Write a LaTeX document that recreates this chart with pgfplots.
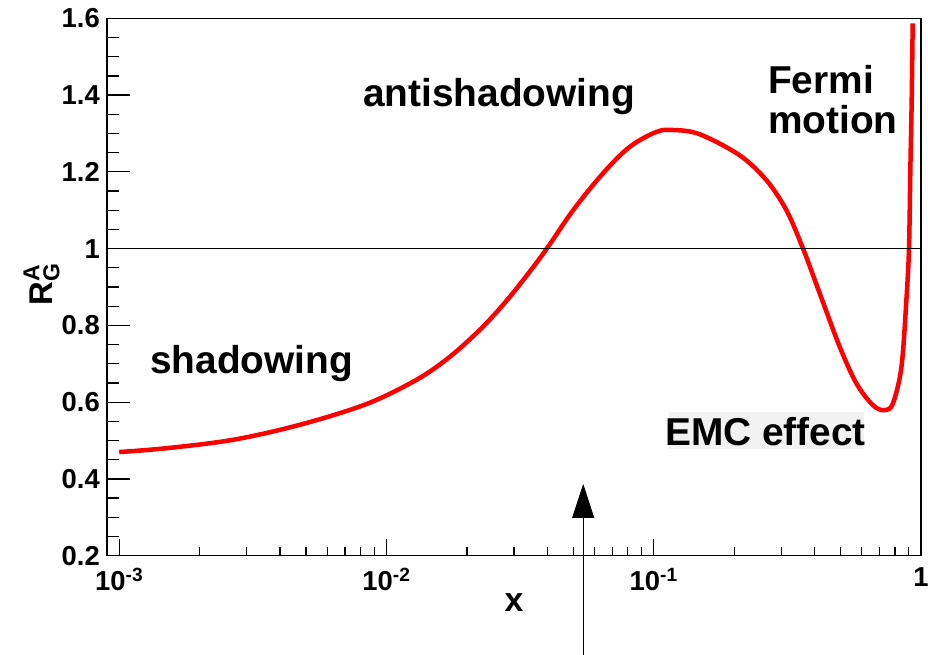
\documentclass[border=0pt]{standalone}
\usepackage{fontspec}
\setmainfont{Liberation Sans}
\usepackage{amsmath}
\usepackage{pgfplots}
\pgfplotsset{compat=1.18}
\usetikzlibrary{arrows.meta}
\newcommand{\annot}{\fontsize{39}{42}\selectfont\bfseries}
\newcommand{\px}[2]{([xshift=#1bp-107bp,yshift=555.7bp-#2bp]ax.south west)}
\begin{document}
\begin{tikzpicture}
\begin{axis}[name=ax, at={(0,0)}, anchor=south west,
  scale only axis, width=814bp, height=537.4bp,
  xmode=log, xmin=9e-4, xmax=1, ymin=0.2, ymax=1.6,
  clip=false,
  tick pos=left, tick align=inside,
  xtick={1e-3,1e-2,1e-1,1},
  xticklabels={10\textsuperscript{-3},10\textsuperscript{-2},10\textsuperscript{-1},1},
  minor xtick={2e-3,3e-3,4e-3,5e-3,6e-3,7e-3,8e-3,9e-3,2e-2,3e-2,4e-2,5e-2,6e-2,7e-2,8e-2,9e-2,0.2,0.3,0.4,0.5,0.6,0.7,0.8,0.9},
  ytick={0.2,0.4,0.6,0.8,1,1.2,1.4,1.6},
  yticklabels={0.2,0.4,0.6,0.8,1,1.2,1.4,1.6},
  minor y tick num=3,
  axis line style={line width=1.5bp, black},
  major tick length=23bp, minor tick length=12bp,
  xtick style={black, line width=1.3bp, /pgfplots/major tick length=17bp, /pgfplots/minor tick length=9bp},
  ytick style={black, line width=1.3bp},
  ticklabel style={font=\fontsize{27.5}{30}\selectfont\bfseries},
  yticklabel style={inner sep=0pt, xshift=-7bp},
  xticklabel style={inner sep=0pt, yshift=-12bp},
  xlabel={x},
  xlabel style={font=\fontsize{34}{36}\selectfont\bfseries, at={(axis description cs:0.5,0)}, anchor=center, yshift=-47bp},
  ylabel={$\text{R}^{\text{A}}_{\text{G}}$},
  ylabel style={font=\fontsize{33}{36}\selectfont\bfseries, at={(axis description cs:0,0.5)}, anchor=center, yshift=65.5bp, xshift=2.5bp},
]
\addplot[red, line width=4.5bp, smooth, tension=0.55] coordinates {
(0.001,0.470) (0.0015,0.480) (0.00267,0.502) (0.00474,0.541) (0.00841,0.595)
(0.01294,0.658) (0.01725,0.718) (0.0227,0.793) (0.02812,0.864) (0.0334,0.929)
(0.03971,0.999) (0.04994,1.100) (0.06457,1.196) (0.08128,1.265) (0.1023,1.304)
(0.1180,1.309) (0.1485,1.298) (0.2098,1.243) (0.2642,1.178) (0.3136,1.100)
(0.3620,1.000) (0.4181,0.883) (0.4966,0.744) (0.5732,0.649) (0.6611,0.592)
(0.7311,0.579) (0.7855,0.597) (0.8450,0.692) (0.8817,0.866) (0.9017,1.000)
(0.9127,1.213) (0.9230,1.387) (0.9309,1.587)
};
\addplot[black, line width=0.9bp] coordinates {(9e-4,1) (1,1)};
\draw[line width=1bp, -{Triangle[length=34bp,width=22bp]}] (axis cs:0.05446,-0.08) -- (axis cs:0.05446,0.387);
\end{axis}
\fill[black!5] \px{669}{412} rectangle \px{864}{449};
\node[anchor=base, inner sep=0pt, font=\annot] at \px{499}{106.7} {antishadowing};
\node[anchor=base west, inner sep=0pt, font=\annot] at \px{150}{373.3} {shadowing};
\node[anchor=base west, inner sep=0pt, font=\annot] at \px{768}{93.3} {Fermi};
\node[anchor=base west, inner sep=0pt, font=\annot] at \px{768}{133.3} {motion};
\node[anchor=base west, inner sep=0pt, font=\annot] at \px{665}{445.7} {EMC effect};
\pgfresetboundingbox
\path[use as bounding box] ([xshift=-107bp,yshift=-99.3bp]ax.south west) rectangle ([xshift=7bp,yshift=18.3bp]ax.north east);
\end{tikzpicture}
\end{document}
